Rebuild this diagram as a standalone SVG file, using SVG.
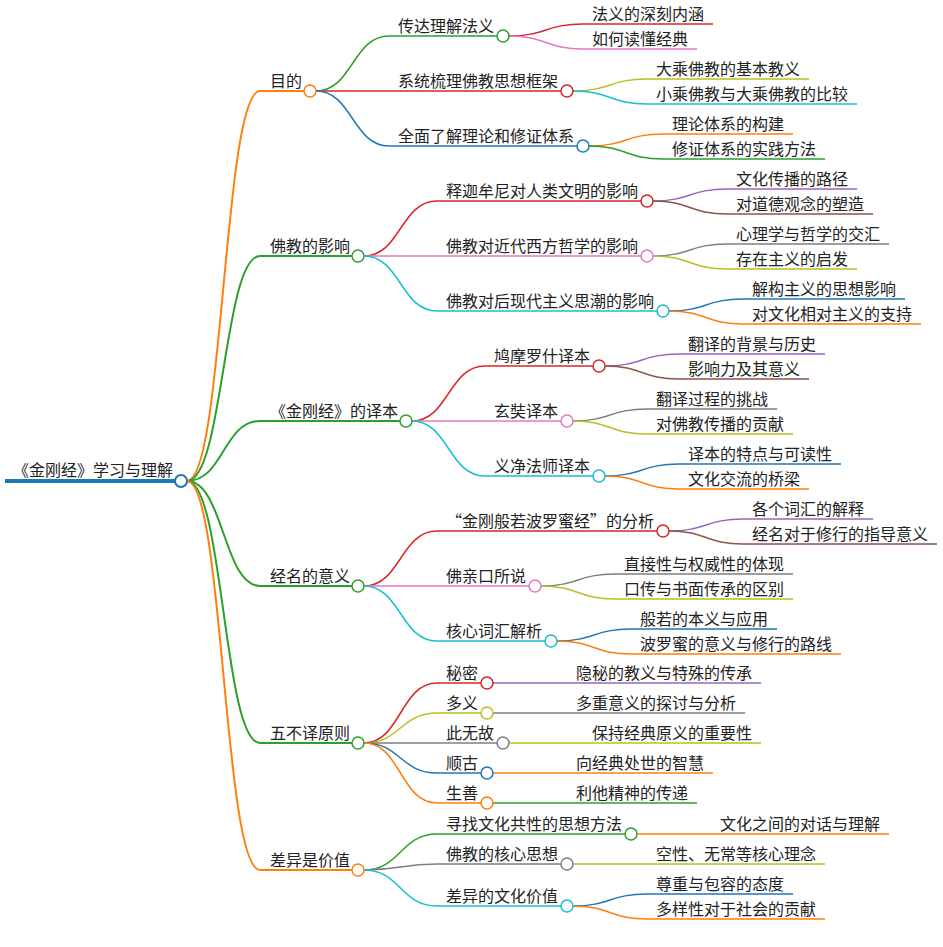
<svg xmlns="http://www.w3.org/2000/svg" width="943" height="947" viewBox="0 0 943 947">
<style>
text{font-family:"Noto Sans CJK SC","Noto Sans",sans-serif;font-size:16px;fill:#222}
path{fill:none;stroke-width:1.5}
.l1{stroke-width:2}
circle{fill:#fff;stroke-width:1.5}
.o{stroke:#ff7f0e}.g{stroke:#2ca02c}.r{stroke:#d62728}.b{stroke:#1f77b4}.p{stroke:#e377c2}
.y{stroke:#bcbd22}.c{stroke:#17becf}.v{stroke:#9467bd}.n{stroke:#8c564b}.k{stroke:#7f7f7f}
</style>
<rect width="943" height="947" fill="#fff"/>
<g id="connectors">
<path d="M5,481 H175" class="b" style="stroke-width:4"/>
<!-- level 1 -->
<path class="l1 o" d="M187,481 C223.5,481 223.5,91 260,91 H304"/>
<path class="l1 g" d="M187,481 C223.5,481 223.5,256 260,256 H352"/>
<path class="l1 g" d="M187,481 C223.5,481 223.5,421 260,421 H400"/>
<path class="l1 g" d="M187,481 C223.5,481 223.5,586 260,586 H352"/>
<path class="l1 g" d="M187,481 C223.5,481 223.5,743 260,743 H352"/>
<path class="l1 o" d="M187,481 C223.5,481 223.5,870 260,870 H352"/>
<!-- 目的 -->
<path class="g" d="M316,91 C352.5,91 352.5,36 389,36 H497"/>
<path class="r" d="M316,91 H561"/>
<path class="b" d="M316,91 C352.5,91 352.5,146 389,146 H577"/>
<path class="r" d="M509,36 C546,36 546,24 583,24 H713"/>
<path class="p" d="M509,36 C546,36 546,49 583,49 H697"/>
<path class="y" d="M573,91 C610,91 610,79 647,79 H809"/>
<path class="c" d="M573,91 C610,91 610,104 647,104 H857"/>
<path class="o" d="M589,146 C626,146 626,134 663,134 H793"/>
<path class="g" d="M589,146 C626,146 626,159 663,159 H825"/>
<!-- 佛教的影响 -->
<path class="r" d="M364,256 C400.5,256 400.5,201 437,201 H641"/>
<path class="p" d="M364,256 H641"/>
<path class="c" d="M364,256 C400.5,256 400.5,311 437,311 H657"/>
<path class="v" d="M653,201 C690,201 690,189 727,189 H857"/>
<path class="n" d="M653,201 C690,201 690,214 727,214 H873"/>
<path class="k" d="M653,256 C690,256 690,244 727,244 H889"/>
<path class="y" d="M653,256 C690,256 690,269 727,269 H857"/>
<path class="b" d="M669,311 C706,311 706,299 743,299 H905"/>
<path class="o" d="M669,311 C706,311 706,324 743,324 H921"/>
<!-- 译本 -->
<path class="r" d="M412,421 C448.5,421 448.5,366 485,366 H593"/>
<path class="p" d="M412,421 H561"/>
<path class="c" d="M412,421 C448.5,421 448.5,476 485,476 H593"/>
<path class="v" d="M605,366 C642,366 642,354 679,354 H825"/>
<path class="n" d="M605,366 C642,366 642,379 679,379 H809"/>
<path class="k" d="M573,421 C610,421 610,409 647,409 H777"/>
<path class="y" d="M573,421 C610,421 610,434 647,434 H793"/>
<path class="b" d="M605,476 C642,476 642,464 679,464 H841"/>
<path class="o" d="M605,476 C642,476 642,489 679,489 H809"/>
<!-- 经名的意义 -->
<path class="r" d="M364,586 C400.5,586 400.5,531 437,531 H657"/>
<path class="p" d="M364,586 H529"/>
<path class="c" d="M364,586 C400.5,586 400.5,641 437,641 H545"/>
<path class="v" d="M669,531 C706,531 706,519 743,519 H873"/>
<path class="n" d="M669,531 C706,531 706,544 743,544 H937"/>
<path class="k" d="M541,586 C578,586 578,574 615,574 H793"/>
<path class="y" d="M541,586 C578,586 578,599 615,599 H793"/>
<path class="b" d="M557,641 C594,641 594,629 631,629 H777"/>
<path class="o" d="M557,641 C594,641 594,654 631,654 H841"/>
<!-- 五不译原则 -->
<path class="r" d="M364,743 C400.5,743 400.5,683 437,683 H481"/>
<path class="y" d="M364,743 C400.5,743 400.5,713 437,713 H481"/>
<path class="k" d="M364,743 H497"/>
<path class="b" d="M364,743 C400.5,743 400.5,773 437,773 H481"/>
<path class="o" d="M364,743 C400.5,743 400.5,803 437,803 H481"/>
<path class="v" d="M493,683 H761"/>
<path class="k" d="M493,713 H745"/>
<path class="y" d="M509,743 H761"/>
<path class="o" d="M493,773 H713"/>
<path class="g" d="M493,803 H697"/>
<!-- 差异是价值 -->
<path class="g" d="M364,870 C400.5,870 400.5,834 437,834 H625"/>
<path class="k" d="M364,870 C400.5,870 400.5,864 437,864 H561"/>
<path class="c" d="M364,870 C400.5,870 400.5,906 437,906 H561"/>
<path class="o" d="M637,834 H889"/>
<path class="y" d="M573,864 H825"/>
<path class="b" d="M573,906 C610,906 610,894 647,894 H793"/>
<path class="o" d="M573,906 C610,906 610,919 647,919 H825"/>
</g>
<g id="root"><text x="13" y="476">《金刚经》学习与理解</text><circle cx="181" cy="481" r="6" class="b" style="stroke-width:2"/></g>

<g id="n-mudi"><text x="270" y="87">目的</text><circle cx="310" cy="91" r="6" class="o"/></g>
<g id="n-chuanda"><text x="398" y="32">传达理解法义</text><circle cx="503" cy="36" r="6" class="g"/></g>
<g id="n-fayi"><text x="592" y="20">法义的深刻内涵</text></g>
<g id="n-dudong"><text x="592" y="45">如何读懂经典</text></g>
<g id="n-xitong"><text x="398" y="87">系统梳理佛教思想框架</text><circle cx="567" cy="91" r="6" class="r"/></g>
<g id="n-dacheng"><text x="656" y="75">大乘佛教的基本教义</text></g>
<g id="n-xiaocheng"><text x="656" y="100">小乘佛教与大乘佛教的比较</text></g>
<g id="n-quanmian"><text x="398" y="142">全面了解理论和修证体系</text><circle cx="583" cy="146" r="6" class="b"/></g>
<g id="n-lilun"><text x="672" y="130">理论体系的构建</text></g>
<g id="n-xiuzheng"><text x="672" y="155">修证体系的实践方法</text></g>

<g id="n-yingxiang"><text x="270" y="252">佛教的影响</text><circle cx="358" cy="256" r="6" class="g"/></g>
<g id="n-shijia"><text x="446" y="197">释迦牟尼对人类文明的影响</text><circle cx="647" cy="201" r="6" class="r"/></g>
<g id="n-wenhua"><text x="736" y="185">文化传播的路径</text></g>
<g id="n-daode"><text x="736" y="210">对道德观念的塑造</text></g>
<g id="n-jindai"><text x="446" y="252">佛教对近代西方哲学的影响</text><circle cx="647" cy="256" r="6" class="p"/></g>
<g id="n-xinli"><text x="736" y="240">心理学与哲学的交汇</text></g>
<g id="n-cunzai"><text x="736" y="265">存在主义的启发</text></g>
<g id="n-houxiandai"><text x="446" y="307">佛教对后现代主义思潮的影响</text><circle cx="663" cy="311" r="6" class="c"/></g>
<g id="n-jiegou"><text x="752" y="295">解构主义的思想影响</text></g>
<g id="n-xiangdui"><text x="752" y="320">对文化相对主义的支持</text></g>

<g id="n-yiben"><text x="270" y="417">《金刚经》的译本</text><circle cx="406" cy="421" r="6" class="g"/></g>
<g id="n-jiumo"><text x="494" y="362">鸠摩罗什译本</text><circle cx="599" cy="366" r="6" class="r"/></g>
<g id="n-beijing"><text x="688" y="350">翻译的背景与历史</text></g>
<g id="n-yingxiangli"><text x="688" y="375">影响力及其意义</text></g>
<g id="n-xuanzang"><text x="494" y="417">玄奘译本</text><circle cx="567" cy="421" r="6" class="p"/></g>
<g id="n-tiaozhan"><text x="656" y="405">翻译过程的挑战</text></g>
<g id="n-gongxian"><text x="656" y="430">对佛教传播的贡献</text></g>
<g id="n-yijing"><text x="494" y="472">义净法师译本</text><circle cx="599" cy="476" r="6" class="c"/></g>
<g id="n-tedian"><text x="688" y="460">译本的特点与可读性</text></g>
<g id="n-qiaoliang"><text x="688" y="485">文化交流的桥梁</text></g>

<g id="n-jingming"><text x="270" y="582">经名的意义</text><circle cx="358" cy="586" r="6" class="g"/></g>
<g id="n-fenxi"><text x="446" y="527">“金刚般若波罗蜜经”的分析</text><circle cx="663" cy="531" r="6" class="r"/></g>
<g id="n-cihui"><text x="752" y="515">各个词汇的解释</text></g>
<g id="n-zhidao"><text x="752" y="540">经名对于修行的指导意义</text></g>
<g id="n-qinkou"><text x="446" y="582">佛亲口所说</text><circle cx="535" cy="586" r="6" class="p"/></g>
<g id="n-quanwei"><text x="624" y="570">直接性与权威性的体现</text></g>
<g id="n-kouchuan"><text x="624" y="595">口传与书面传承的区别</text></g>
<g id="n-hexin"><text x="446" y="637">核心词汇解析</text><circle cx="551" cy="641" r="6" class="c"/></g>
<g id="n-bore"><text x="640" y="625">般若的本义与应用</text></g>
<g id="n-boluomi"><text x="640" y="650">波罗蜜的意义与修行的路线</text></g>

<g id="n-wubuyi"><text x="270" y="739">五不译原则</text><circle cx="358" cy="743" r="6" class="g"/></g>
<g id="n-mimi"><text x="446" y="679">秘密</text><circle cx="487" cy="683" r="6" class="r"/></g>
<g id="n-yinmi"><text x="576" y="679">隐秘的教义与特殊的传承</text></g>
<g id="n-duoyi"><text x="446" y="709">多义</text><circle cx="487" cy="713" r="6" class="y"/></g>
<g id="n-duozhong"><text x="576" y="709">多重意义的探讨与分析</text></g>
<g id="n-ciwugu"><text x="446" y="739">此无故</text><circle cx="503" cy="743" r="6" class="k"/></g>
<g id="n-baochi"><text x="592" y="739">保持经典原义的重要性</text></g>
<g id="n-shungu"><text x="446" y="769">顺古</text><circle cx="487" cy="773" r="6" class="b"/></g>
<g id="n-chushi"><text x="576" y="769">向经典处世的智慧</text></g>
<g id="n-shengshan"><text x="446" y="799">生善</text><circle cx="487" cy="803" r="6" class="o"/></g>
<g id="n-lita"><text x="576" y="799">利他精神的传递</text></g>

<g id="n-chayi"><text x="270" y="866">差异是价值</text><circle cx="358" cy="870" r="6" class="o"/></g>
<g id="n-xunzhao"><text x="446" y="830">寻找文化共性的思想方法</text><circle cx="631" cy="834" r="6" class="g"/></g>
<g id="n-duihua"><text x="720" y="830">文化之间的对话与理解</text></g>
<g id="n-hexinsixiang"><text x="446" y="860">佛教的核心思想</text><circle cx="567" cy="864" r="6" class="k"/></g>
<g id="n-kongxing"><text x="656" y="860">空性、无常等核心理念</text></g>
<g id="n-wenhuajiazhi"><text x="446" y="902">差异的文化价值</text><circle cx="567" cy="906" r="6" class="c"/></g>
<g id="n-zunzhong"><text x="656" y="890">尊重与包容的态度</text></g>
<g id="n-duoyang"><text x="656" y="915">多样性对于社会的贡献</text></g>
</svg>
